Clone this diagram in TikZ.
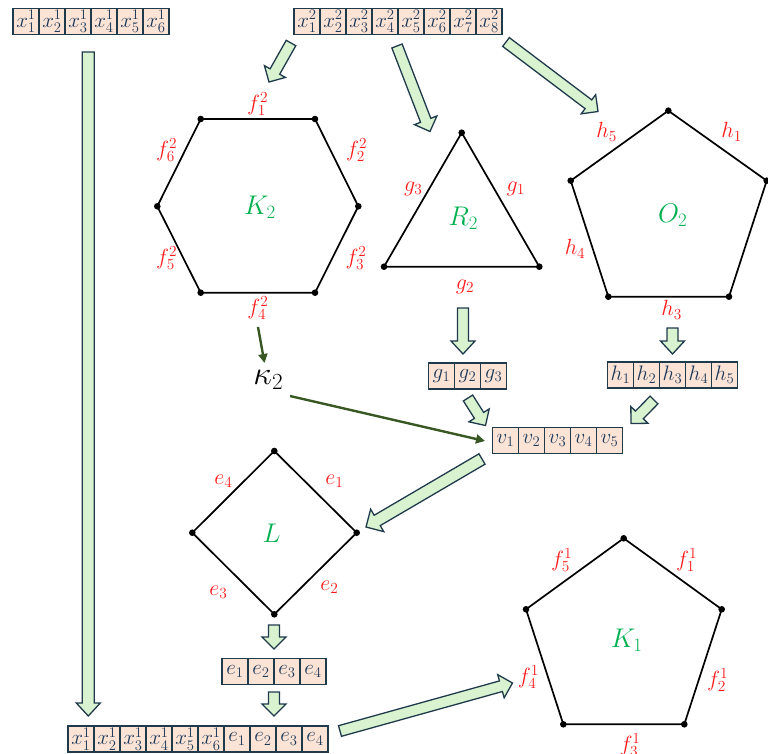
\RequirePackage{fix-cm}
\documentclass[tikz,border=0pt]{standalone}
\usetikzlibrary{calc,arrows.meta}
\definecolor{peach}{HTML}{FBE3D6}
\definecolor{slate}{HTML}{1F3A4B}
\definecolor{celltext}{HTML}{1E3A5A}
\definecolor{lgreen}{HTML}{D9F2D0}
\definecolor{kgreen}{HTML}{00B050}
\definecolor{dgreen}{HTML}{385723}
\definecolor{lred}{HTML}{FF1A1A}
\tikzset{
  cell/.style={draw=slate, fill=peach, line width=1.4pt, minimum width=26pt, minimum height=26pt, inner sep=0pt, text=celltext, font=\fontsize{21}{25}\selectfont},
  blk/.style={draw=slate, fill=lgreen, line width=1.3pt, line join=miter},
  edgeline/.style={draw=black, line width=1.7pt},
  elab/.style={text=lred, font=\fontsize{22}{26}\selectfont, inner sep=0pt},
  glab/.style={text=kgreen, font=\fontsize{27}{32}\selectfont, inner sep=0pt},
  conn/.style={draw=dgreen, line width=2.4pt, -{Triangle[length=9pt,width=9pt]}},
}
\newcommand\cellrow[4]{%
  \foreach \t [count=\i] in {#4} {\node[cell] (#1-\i) at ({#2+13+26*(\i-1)}, #3) {$\t$};}}
\newcommand\blkarrow[5]{%
  \coordinate (ba-n) at ($(#2)!#5!(#1)$);
  \draw[blk] ($(#1)!#3!90:(#2)$) -- ($(ba-n)!#3!90:(#2)$) -- ($(ba-n)!#4!90:(#2)$) -- (#2)
    -- ($(ba-n)!#4!-90:(#2)$) -- ($(ba-n)!#3!-90:(#2)$) -- ($(#1)!#3!-90:(#2)$) -- cycle;}
\newcommand\vtxdots[1]{\foreach \v in {#1} {\fill (\v) circle (3.3pt);}}
\begin{document}
\begin{tikzpicture}[x=1pt,y=-1pt]
\useasboundingbox (0,0) rectangle (768,754);
\clip (0,0) rectangle (768,754);
% cell rows
\cellrow{xa}{13}{21.5}{x^1_1,x^1_2,x^1_3,x^1_4,x^1_5,x^1_6}
\cellrow{xb}{294}{21.5}{x^2_1,x^2_2,x^2_3,x^2_4,x^2_5,x^2_6,x^2_7,x^2_8}
\cellrow{gr}{428.5}{376}{g_1,g_2,g_3}
\cellrow{hr}{607.5}{375}{h_1,h_2,h_3,h_4,h_5}
\cellrow{vr}{492.5}{440.5}{v_1,v_2,v_3,v_4,v_5}
\cellrow{er}{222}{671.5}{e_1,e_2,e_3,e_4}
\cellrow{br}{68}{739}{x^1_1,x^1_2,x^1_3,x^1_4,x^1_5,x^1_6,e_1,e_2,e_3,e_4}
% hexagon K2
\coordinate (H1) at (200.7,119); \coordinate (H2) at (315,119); \coordinate (H3) at (358.3,206.3);
\coordinate (H4) at (315,292.7); \coordinate (H5) at (200.7,292.7); \coordinate (H6) at (157.3,206.3);
\draw[edgeline] (H1) -- (H2) -- (H3) -- (H4) -- (H5) -- (H6) -- cycle;
\vtxdots{H1,H2,H3,H4,H5,H6}
\node[elab] (fb1) at (257.7,104) {$f^2_1$};
\node[elab] (fb2) at (356.7,150) {$f^2_2$};
\node[elab] (fb3) at (356,258) {$f^2_3$};
\node[elab] (fb4) at (258,308) {$f^2_4$};
\node[elab] (fb5) at (166.7,258) {$f^2_5$};
\node[elab] (fb6) at (166.7,150) {$f^2_6$};
\node[glab] (K2) at (260,207) {$K_2$};
% triangle R2
\coordinate (T1) at (461.7,132.7); \coordinate (T2) at (539.3,266.7); \coordinate (T3) at (384,266.7);
\draw[edgeline] (T1) -- (T2) -- (T3) -- cycle;
\vtxdots{T1,T2,T3}
\node[elab] (g1) at (515.7,189) {$g_1$};
\node[elab] (g2) at (465,287) {$g_2$};
\node[elab] (g3) at (413.3,189) {$g_3$};
\node[glab] (R2) at (463.3,218) {$R_2$};
% pentagon O2
\coordinate (O1) at (668.3,110.7); \coordinate (O2v) at (766.7,180.7); \coordinate (O3) at (729,296.7);
\coordinate (O4) at (608.3,296.7); \coordinate (O5) at (570.7,180.7);
\draw[edgeline] (O1) -- (O2v) -- (O3) -- (O4) -- (O5) -- cycle;
\vtxdots{O1,O2v,O3,O4,O5}
\node[elab] (h1) at (731.7,132) {$h_1$};
\node[elab] (h2) at (778,249) {$h_2$};
\node[elab] (h3) at (671.7,310) {$h_3$};
\node[elab] (h4) at (575,249) {$h_4$};
\node[elab] (h5) at (606.7,132) {$h_5$};
\node[glab] (O2) at (672.7,215) {$O_2$};
% diamond L
\coordinate (L1) at (274.3,451); \coordinate (L2) at (356.7,532.7); \coordinate (L3) at (274.3,614.3); \coordinate (L4) at (192.3,532.7);
\draw[edgeline] (L1) -- (L2) -- (L3) -- (L4) -- cycle;
\vtxdots{L1,L2,L3,L4}
\node[elab] (e1) at (334.3,481) {$e_1$};
\node[elab] (e2) at (329.3,587) {$e_2$};
\node[elab] (e3) at (218.3,592) {$e_3$};
\node[elab] (e4) at (223.3,481) {$e_4$};
\node[glab] (L) at (271.7,533) {$L$};
% pentagon K1
\coordinate (P1) at (623.7,538.3); \coordinate (P2) at (721.7,609.3); \coordinate (P3) at (684.3,724.3);
\coordinate (P4) at (563.3,724.3); \coordinate (P5) at (526,609.3);
\draw[edgeline] (P1) -- (P2) -- (P3) -- (P4) -- (P5) -- cycle;
\vtxdots{P1,P2,P3,P4,P5}
\node[elab] (fa1) at (686.7,560) {$f^1_1$};
\node[elab] (fa2) at (717.7,680) {$f^1_2$};
\node[elab] (fa3) at (630,745) {$f^1_3$};
\node[elab] (fa4) at (528.3,677) {$f^1_4$};
\node[elab] (fa5) at (561.7,560) {$f^1_5$};
\node[glab] (K1) at (626.7,640) {$K_1$};
% kappa
\node[font=\fontsize{33}{38}\selectfont, inner sep=0pt] (kap) at (268.3,380) {$\kappa_2$};
\coordinate (c1s) at (258,327); \coordinate (c1e) at (264.5,363);
\coordinate (c2s) at (290,396); \coordinate (c2e) at (485,441);
\draw[conn] (c1s) -- (c1e);
\draw[conn] (c2s) -- (c2e);
% block arrows
\coordinate (a1s) at (291,43);    \coordinate (a1e) at (269,82);
\coordinate (a2s) at (397,46);    \coordinate (a2e) at (430,131.5);
\coordinate (a3s) at (506,42);    \coordinate (a3e) at (598,111.5);
\coordinate (a4s) at (88.3,52);   \coordinate (a4e) at (88.3,716);
\coordinate (a5s) at (463,308);   \coordinate (a5e) at (463,354);
\coordinate (a6s) at (672.5,328); \coordinate (a6e) at (672.5,354);
\coordinate (a7s) at (468,398);   \coordinate (a7e) at (485.5,425.5);
\coordinate (a8s) at (654,400);   \coordinate (a8e) at (631,423.5);
\coordinate (a9s) at (482,459);   \coordinate (a9e) at (366,527);
\coordinate (a10s) at (274,625);  \coordinate (a10e) at (274,649);
\coordinate (a11s) at (274,692);  \coordinate (a11e) at (274,716);
\coordinate (a12s) at (340,731);  \coordinate (a12e) at (512.5,683);
\blkarrow{a1s}{a1e}{5.5pt}{12pt}{12pt}
\blkarrow{a2s}{a2e}{5.5pt}{12pt}{12pt}
\blkarrow{a3s}{a3e}{5.5pt}{12pt}{12pt}
\blkarrow{a4s}{a4e}{6pt}{12pt}{13pt}
\blkarrow{a5s}{a5e}{5.5pt}{12pt}{13pt}
\blkarrow{a6s}{a6e}{5.5pt}{12pt}{13pt}
\blkarrow{a7s}{a7e}{5.5pt}{12pt}{12pt}
\blkarrow{a8s}{a8e}{5.5pt}{12pt}{12pt}
\blkarrow{a9s}{a9e}{6pt}{13pt}{13pt}
\blkarrow{a10s}{a10e}{5.5pt}{12pt}{12pt}
\blkarrow{a11s}{a11e}{5.5pt}{12pt}{12pt}
\blkarrow{a12s}{a12e}{5.5pt}{12pt}{12pt}
\end{tikzpicture}
\end{document}
